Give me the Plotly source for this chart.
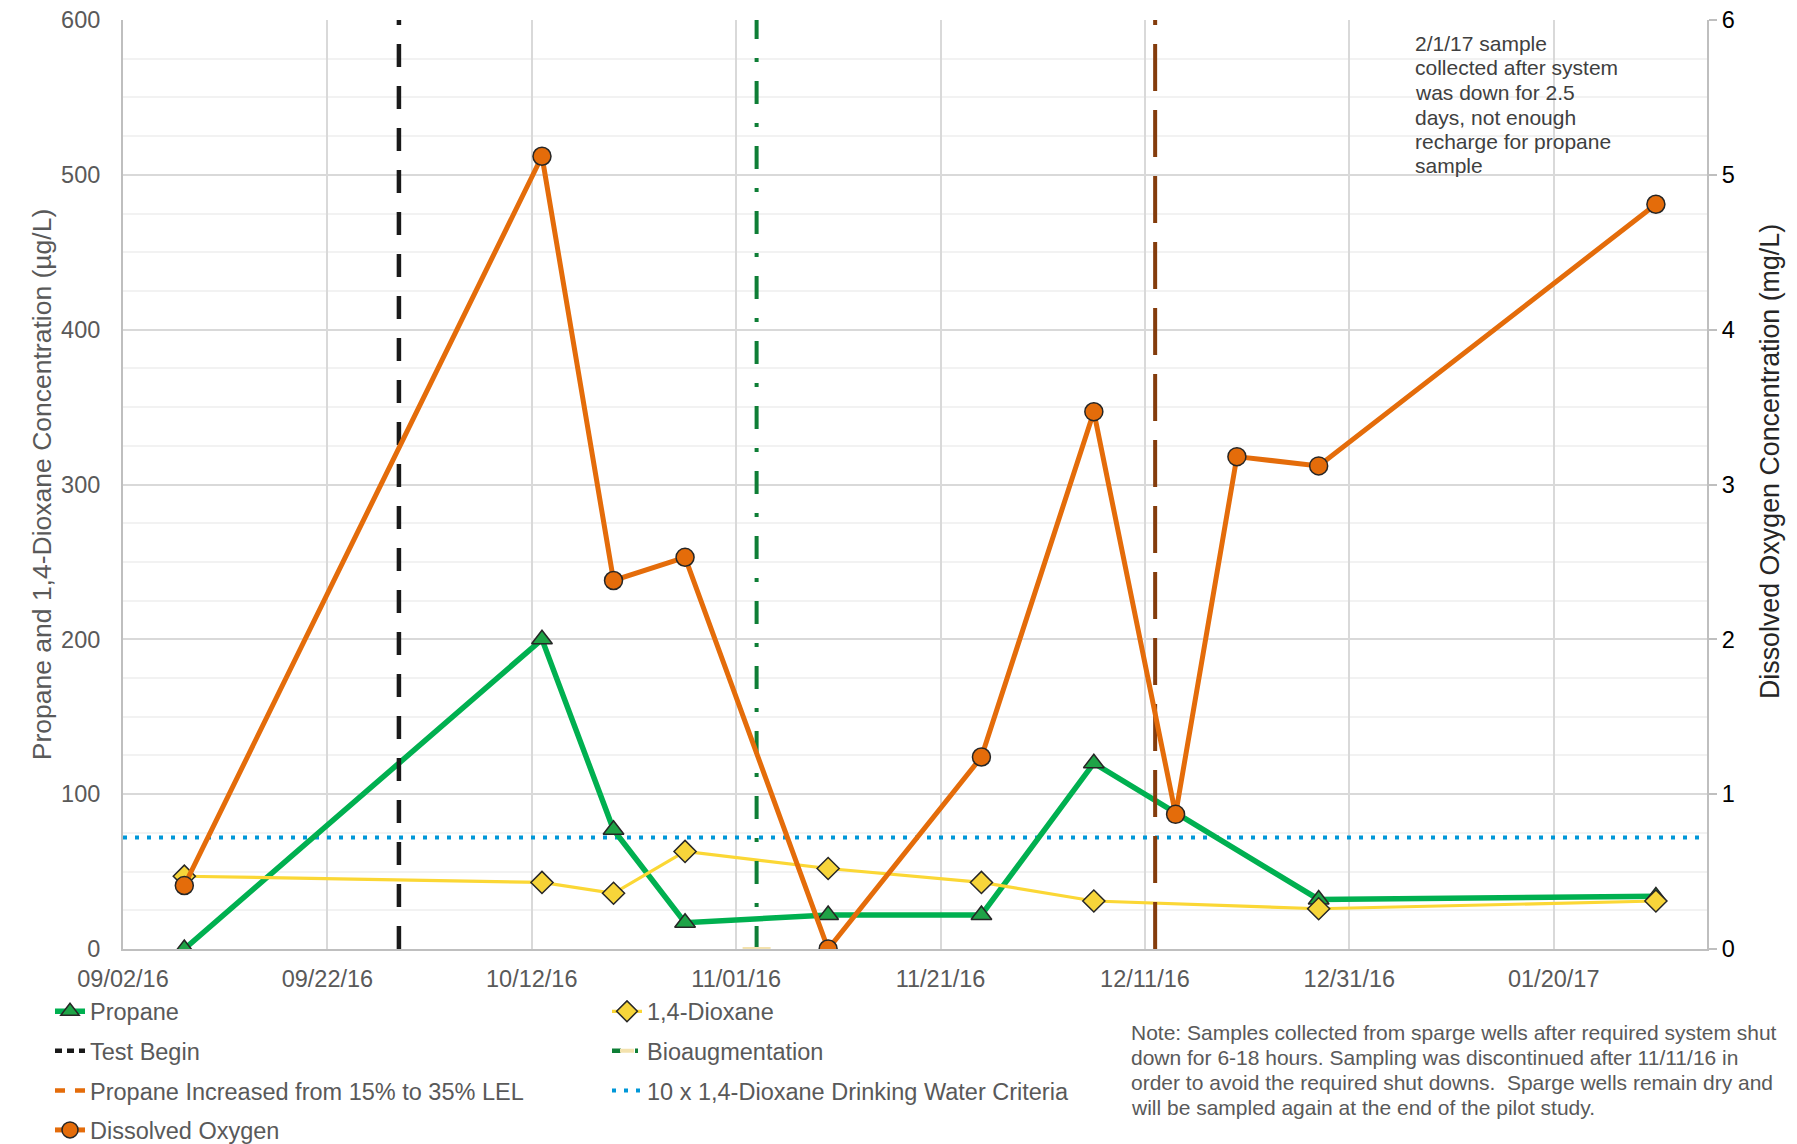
import plotly.graph_objects as go

# ---------------- data ----------------
sample_dates = ["2016-09-08", "2016-10-13", "2016-10-20", "2016-10-27", "2016-11-10",
                "2016-11-25", "2016-12-06", "2016-12-28", "2017-01-30"]
propane = [0, 200, 77, 17, 22, 22, 120, 32, 34]
dioxane = [47, 43, 36, 63, 52, 43, 31, 26, 31]

do_dates = ["2016-09-08", "2016-10-13", "2016-10-20", "2016-10-27", "2016-11-10",
            "2016-11-25", "2016-12-06", "2016-12-14", "2016-12-20", "2016-12-28", "2017-01-30"]
dissolved_oxygen = [0.41, 5.12, 2.38, 2.53, 0.0, 1.24, 3.47, 0.87, 3.18, 3.12, 4.81]

test_begin_date = "2016-09-29"
bioaug_date = "2016-11-03"
propane_increase_date = "2016-12-12"
criteria_value = 72

x_start, x_end = "2016-09-02", "2017-02-04"
y_left_range = [0, 600]
y_right_range = [0, 6]

left_title = "Propane and 1,4-Dioxane Concentration (µg/L)"
right_title = "Dissolved Oxygen Concentration (mg/L)"

note_lines = [
    "Note: Samples collected from sparge wells after required system shut",
    "down for 6-18 hours. Sampling was discontinued after 11/11/16 in",
    "order to avoid the required shut downs.  Sparge wells remain dry and",
    "will be sampled again at the end of the pilot study.",
]
box_lines = [
    "2/1/17 sample",
    "collected after system",
    "was down for 2.5",
    "days, not enough",
    "recharge for propane",
    "sample",
]

# ---------------- layout geometry ----------------
W, H = 1797, 1144
ML, MR, MT, MB = 123, 90, 20, 195
PW = W - ML - MR
PH = H - MT - MB


def xp(px):
    return (px - ML) / PW


def yp(py):
    return (H - MB - py) / PH


FONT = "Liberation Sans, Arial, sans-serif"
GRAY = "#595959"

GREEN = "#00B050"
YELLOW = "#FBD735"
ORANGE = "#E46C0A"
BLACK = "#1A1A1A"
BIO = "#0E7E36"
PALE = "#F3E2AE"
BROWN = "#843C0C"
BLUE = "#0097D8"
OUT = "#262626"

fig = go.Figure()

# criteria line
fig.add_trace(go.Scatter(
    x=[x_start, x_end], y=[criteria_value, criteria_value], mode="lines",
    name="10 x 1,4-Dioxane Drinking Water Criteria",
    line=dict(color=BLUE, width=4, dash="4px,8px"),
    legend="legend2", legendrank=3, legendgroup="crit"))

# propane
fig.add_trace(go.Scatter(
    x=sample_dates, y=propane, mode="lines+markers", name="Propane",
    line=dict(color=GREEN, width=5.5),
    marker=dict(symbol="triangle-up", size=18, color="#1FA347", line=dict(color=OUT, width=1.5)),
    legend="legend", legendrank=1, legendgroup="prop"))

# dioxane
fig.add_trace(go.Scatter(
    x=sample_dates, y=dioxane, mode="lines+markers", name="1,4-Dioxane",
    line=dict(color=YELLOW, width=3.2),
    marker=dict(symbol="diamond", size=17, color="#F7D53A", line=dict(color=OUT, width=1.5)),
    legend="legend2", legendrank=1, legendgroup="diox"))

# event lines (drawn on chart)
fig.add_trace(go.Scatter(
    x=[test_begin_date, test_begin_date], y=y_left_range, mode="lines",
    line=dict(color=BLACK, width=4.5, dash="23px,19px"),
    showlegend=False, legendgroup="test", hoverinfo="skip"))
fig.add_trace(go.Scatter(
    x=[bioaug_date, bioaug_date], y=y_left_range, mode="lines+markers",
    line=dict(color=BIO, width=4, dash="23px,19px,4px,19px"),
    marker=dict(symbol="line-ew", size=20, color=PALE,
                line=dict(color=[PALE, "rgba(0,0,0,0)"], width=4)),
    showlegend=False, legendgroup="bio", hoverinfo="skip"))
fig.add_trace(go.Scatter(
    x=[propane_increase_date, propane_increase_date], y=y_left_range, mode="lines",
    line=dict(color=BROWN, width=4, dash="47px,19px"),
    showlegend=False, legendgroup="inc", hoverinfo="skip"))

# legend entries for event lines
fig.add_trace(go.Scatter(
    x=[None], y=[None], mode="lines", name="Test Begin",
    line=dict(color=BLACK, width=4.5, dash="7px,5px"),
    legend="legend", legendrank=2, legendgroup="test"))
fig.add_trace(go.Scatter(
    x=[None], y=[None], mode="lines+markers", name="Bioaugmentation",
    line=dict(color=BIO, width=4.5, dash="9px,14px,3px,4px"),
    marker=dict(symbol="line-ew", size=10, color=PALE, line=dict(color=PALE, width=4)),
    legend="legend2", legendrank=2, legendgroup="bio"))
fig.add_trace(go.Scatter(
    x=[None], y=[None], mode="lines", name="Propane Increased from 15% to 35% LEL",
    line=dict(color=ORANGE, width=4.5, dash="10px,10px"),
    legend="legend", legendrank=3, legendgroup="inc"))

# dissolved oxygen
fig.add_trace(go.Scatter(
    x=do_dates, y=dissolved_oxygen, mode="lines+markers", name="Dissolved Oxygen",
    yaxis="y2",
    line=dict(color=ORANGE, width=5),
    marker=dict(symbol="circle", size=18, color=ORANGE, line=dict(color=OUT, width=1.5)),
    legend="legend", legendrank=4, legendgroup="do"))

# white box behind the upper-right note
shapes = [dict(type="rect", xref="paper", yref="paper",
               x0=xp(1396), x1=xp(1646), y0=yp(190), y1=yp(21),
               fillcolor="white", line=dict(width=0), layer="between")]

annotations = []
for i, t in enumerate(box_lines):
    annotations.append(dict(
        text=t, xref="paper", yref="paper", x=xp(1413), y=yp(43.5 + 24.5 * i),
        xanchor="left", yanchor="middle", showarrow=False,
        font=dict(family=FONT, size=21, color="#404040")))
for i, t in enumerate(note_lines):
    annotations.append(dict(
        text=t, xref="paper", yref="paper", x=xp(1129), y=yp(1032.6 + 24.8 * i),
        xanchor="left", yanchor="middle", showarrow=False,
        font=dict(family=FONT, size=21, color=GRAY)))
# right axis title
annotations.append(dict(
    text=right_title, xref="paper", yref="paper", x=xp(1770), y=yp(462),
    xanchor="center", yanchor="middle", textangle=-90, showarrow=False,
    font=dict(family=FONT, size=26.8, color="#262626")))

legend_common = dict(
    orientation="v", xanchor="left", yanchor="top",
    font=dict(family=FONT, size=23.5, color=GRAY),
    bgcolor="rgba(0,0,0,0)", borderwidth=0,
    traceorder="grouped", tracegroupgap=6, itemclick=False,
)

fig.update_layout(
    width=W, height=H,
    margin=dict(l=ML, r=MR, t=MT, b=MB, autoexpand=False),
    paper_bgcolor="white", plot_bgcolor="white",
    font=dict(family=FONT, color=GRAY),
    showlegend=True,
    legend=dict(x=xp(50), y=yp(989.5), **legend_common),
    legend2=dict(x=xp(607), y=yp(989.5), **legend_common),
    xaxis=dict(
        type="date", range=[x_start, x_end], tick0=x_start, dtick=20 * 86400000,
        tickformat="%m/%d/%y", showgrid=True, gridcolor="#D9D9D9", gridwidth=1.5,
        showline=True, linecolor="#BFBFBF", linewidth=2, ticks="", zeroline=False,
        tickfont=dict(family=FONT, size=23.5, color=GRAY), ticklabelstandoff=8,
    ),
    yaxis=dict(
        range=y_left_range, dtick=100, showgrid=True, gridcolor="#D9D9D9", gridwidth=1.5,
        minor=dict(dtick=25, showgrid=True, gridcolor="#F2F2F2", gridwidth=1.5),
        showline=True, linecolor="#BFBFBF", linewidth=2, ticks="", zeroline=False,
        tickfont=dict(family=FONT, size=23.5, color=GRAY), ticklabelstandoff=16,
        title=dict(text=left_title,
                   font=dict(family=FONT, size=26.5, color=GRAY), standoff=2),
    ),
    yaxis2=dict(
        overlaying="y", side="right", range=y_right_range, dtick=1, showgrid=False,
        showline=True, linecolor="#BFBFBF", linewidth=2, ticks="outside", ticklen=8,
        tickcolor="#BFBFBF", tickwidth=2, zeroline=False,
        tickfont=dict(family=FONT, size=23.5, color="#000000"),
    ),
    shapes=shapes,
    annotations=annotations,
    hovermode=False,
)

fig.write_html("out.html", config={"displayModeBar": False},
               post_script="document.body.style.margin='0';")
